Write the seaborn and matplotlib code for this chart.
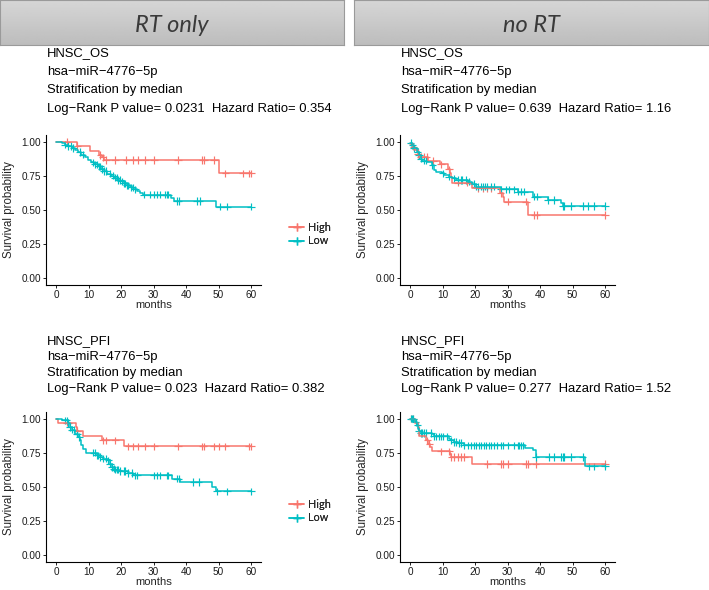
import numpy as np
import pandas as pd
import matplotlib
matplotlib.use("Agg")
import matplotlib.pyplot as plt
from matplotlib.lines import Line2D
import seaborn as sns

# ---- data ----
# RT only, OS
rt_os_high_t = [0, 6.6, 10.5, 13.3, 14.1, 14.8, 50.0]
rt_os_high_s = [1.0, 0.968, 0.934, 0.902, 0.885, 0.865, 0.767]
rt_os_high_c = [3.3, 6.6, 13.6, 14.4, 15.4, 18.2, 21.6, 23.8, 25.2, 27.5, 30.2, 37.5,
                45.0, 45.6, 48.6, 52.1, 57.5, 59.3, 60.0]
rt_os_low_t = [0, 1.8, 2.8, 3.8, 4.8, 5.8, 6.8, 7.8, 8.8, 9.8, 10.8, 11.8, 12.8, 13.8,
               14.8, 15.8, 16.8, 17.8, 18.8, 19.8, 20.8, 21.8, 22.8, 23.8, 24.8, 25.8,
               26.8, 35.3, 36.3, 49.3]
rt_os_low_s = [1.0, 0.99, 0.98, 0.97, 0.955, 0.94, 0.925, 0.905, 0.885, 0.865, 0.85,
               0.835, 0.82, 0.80, 0.785, 0.765, 0.75, 0.735, 0.72, 0.71, 0.695, 0.68,
               0.665, 0.65, 0.635, 0.62, 0.61, 0.587, 0.564, 0.522]
rt_os_low_c = [2.8, 3.8, 4.5, 5.3, 7.4, 8.2, 11.5, 12.0, 12.5, 13.1, 13.6, 14.1, 14.8,
               15.4, 16.6, 17.5, 18.2, 18.7, 19.2, 19.7, 20.2, 20.8, 21.3, 21.8, 22.3,
               23.0, 23.6, 24.3, 27.1, 29.0, 30.2, 31.2, 32.1, 33.6, 34.1, 34.6, 37.2,
               37.7, 43.4, 44.2, 50.5, 52.6, 60.0]

# RT only, PFI
rt_pfi_high_t = [0, 0.7, 6.2, 6.6, 8.4, 14.1, 20.8]
rt_pfi_high_s = [1.0, 0.971, 0.939, 0.909, 0.873, 0.841, 0.797]
rt_pfi_high_c = [3.3, 6.6, 14.4, 15.4, 18.2, 22.3, 23.8, 25.2, 27.4, 30.2, 37.5, 45.0,
                 45.4, 48.5, 50.0, 52.1, 59.3, 60.0]
rt_pfi_low_t = [0, 1.7, 2.8, 3.8, 4.3, 4.8, 5.9, 6.9, 7.4, 7.7, 8.4, 9.2, 12.5, 13.6,
                14.6, 16.1, 16.6, 17.2, 17.7, 18.2, 19.7, 22.3, 23.8, 35.6, 38.2, 48.0, 49.3]
rt_pfi_low_s = [1.0, 0.993, 0.988, 0.968, 0.939, 0.919, 0.890, 0.865, 0.841, 0.804,
                0.779, 0.750, 0.730, 0.718, 0.706, 0.694, 0.669, 0.645, 0.632, 0.625,
                0.615, 0.600, 0.583, 0.559, 0.534, 0.498, 0.466]
rt_pfi_low_c = [2.8, 3.3, 3.8, 4.3, 4.8, 5.5, 6.4, 6.6, 7.2, 11.5, 12.0, 12.5, 13.0, 13.6,
                14.6, 15.4, 16.1, 16.6, 17.2, 17.7, 18.2, 18.7, 19.2, 19.7, 20.8, 21.3,
                22.3, 23.3, 24.3, 24.9, 30.0, 31.0, 32.1, 34.1, 34.6, 37.2, 37.7, 42.3,
                43.9, 49.5, 52.6, 60.0]

# no RT, OS
no_os_high_t = [0, 1.0, 1.5, 2.3, 2.8, 5.5, 9.2, 11.8, 12.2, 12.5, 13.0, 19.2, 27.6,
                28.5, 28.8, 36.2]
no_os_high_s = [0.983, 0.963, 0.939, 0.909, 0.890, 0.860, 0.833, 0.797, 0.767, 0.743,
                0.699, 0.657, 0.620, 0.596, 0.559, 0.461]
no_os_high_c = [1.0, 2.3, 3.3, 4.3, 5.1, 7.1, 9.5, 12.0, 14.6, 17.5, 21.0, 22.3, 23.6,
                24.9, 27.9, 30.0, 35.7, 38.2, 39.0, 60.0]
no_os_low_t = [0, 0.7, 1.2, 2.1, 2.8, 3.3, 3.8, 5.3, 6.9, 7.4, 7.9, 9.7, 10.5, 12.0,
               13.0, 14.1, 17.7, 19.2, 20.2, 27.9, 33.1, 37.7, 42.3, 46.4, 47.0]
no_os_low_s = [0.993, 0.975, 0.951, 0.926, 0.902, 0.877, 0.860, 0.853, 0.828, 0.792,
               0.779, 0.767, 0.755, 0.743, 0.730, 0.718, 0.706, 0.689, 0.669, 0.650,
               0.632, 0.596, 0.571, 0.551, 0.527]
no_os_low_c = [0.2, 0.7, 1.2, 2.3, 2.8, 3.3, 4.3, 4.8, 6.9, 10.0, 12.0, 13.6, 14.6, 15.6,
               16.1, 17.2, 18.2, 19.7, 20.2, 21.0, 21.8, 22.3, 23.0, 23.8, 24.9, 25.9,
               27.9, 29.5, 30.5, 32.1, 33.1, 34.1, 35.1, 38.2, 39.2, 42.3, 44.4, 47.0,
               47.5, 49.5, 53.1, 54.7, 56.5, 60.0]

# no RT, PFI
no_pfi_high_t = [0, 1.5, 2.3, 2.8, 4.8, 5.5, 6.2, 6.9, 12.2, 12.5, 19.2]
no_pfi_high_s = [1.0, 0.968, 0.939, 0.877, 0.841, 0.816, 0.792, 0.760, 0.743, 0.718, 0.667]
no_pfi_high_c = [0.4, 1.0, 5.3, 5.9, 9.5, 12.0, 12.7, 13.6, 14.6, 15.6, 16.6, 23.8,
                 27.9, 28.5, 30.2, 35.7, 36.2, 38.7, 60.0]
no_pfi_low_t = [0, 1.5, 2.1, 2.5, 2.8, 3.3, 6.7, 7.4, 12.0, 12.5, 13.6, 14.6, 16.6,
                35.3, 37.7, 38.7, 53.8]
no_pfi_low_s = [1.0, 0.975, 0.951, 0.926, 0.909, 0.895, 0.885, 0.870, 0.853, 0.841,
                0.828, 0.821, 0.804, 0.784, 0.767, 0.718, 0.650]
no_pfi_low_c = [0.2, 0.7, 1.0, 1.7, 2.3, 2.8, 3.3, 3.8, 4.3, 4.8, 6.4, 7.4, 7.9, 8.9,
                9.5, 10.0, 11.5, 12.5, 13.6, 14.1, 15.1, 15.6, 16.6, 17.7, 18.7, 19.7,
                20.2, 21.3, 21.8, 22.8, 23.3, 24.3, 24.9, 25.9, 26.9, 27.9, 28.5, 30.0,
                32.1, 33.1, 33.6, 34.1, 34.6, 38.7, 42.8, 44.4, 46.4, 47.0, 47.5, 49.5,
                53.1, 55.2, 56.7, 60.0]

groups = ["High", "Low"]
colors = {"High": "#F8766D", "Low": "#00BFC4"}
headers = ["RT only", "no RT"]
titles = [
    ["HNSC_OS", "hsa\u2212miR\u22124776\u22125p", "Stratification by median",
     "Log\u2212Rank P value= 0.0231  Hazard Ratio= 0.354"],
    ["HNSC_OS", "hsa\u2212miR\u22124776\u22125p", "Stratification by median",
     "Log\u2212Rank P value= 0.639  Hazard Ratio= 1.16"],
    ["HNSC_PFI", "hsa\u2212miR\u22124776\u22125p", "Stratification by median",
     "Log\u2212Rank P value= 0.023  Hazard Ratio= 0.382"],
    ["HNSC_PFI", "hsa\u2212miR\u22124776\u22125p", "Stratification by median",
     "Log\u2212Rank P value= 0.277  Hazard Ratio= 1.52"],
]
panels = [
    (rt_os_high_t, rt_os_high_s, rt_os_high_c, rt_os_low_t, rt_os_low_s, rt_os_low_c),
    (no_os_high_t, no_os_high_s, no_os_high_c, no_os_low_t, no_os_low_s, no_os_low_c),
    (rt_pfi_high_t, rt_pfi_high_s, rt_pfi_high_c, rt_pfi_low_t, rt_pfi_low_s, rt_pfi_low_c),
    (no_pfi_high_t, no_pfi_high_s, no_pfi_high_c, no_pfi_low_t, no_pfi_low_s, no_pfi_low_c),
]

sns.set_style("ticks")
plt.rcParams["font.family"] = ["Liberation Sans", "DejaVu Sans"]

W, H = 709, 590
fig = plt.figure(figsize=(W / 100, H / 100), dpi=100)


def fx(x):
    return x / W


def fy(y):
    return 1 - y / H


# header boxes with a grey gradient
for hx0, hx1, label in [(0, 344, headers[0]), (354, 709, headers[1])]:
    hax = fig.add_axes([fx(hx0), fy(45), fx(hx1 - hx0), 45 / H])
    grad = np.linspace(0.84, 0.74, 50)[:, None]
    hax.imshow(grad, cmap="gray", vmin=0, vmax=1, aspect="auto", extent=[0, 1, 0, 1])
    hax.set_xticks([])
    hax.set_yticks([])
    for sp in hax.spines.values():
        sp.set_color("#9a9a9a")
        sp.set_linewidth(0.8)
    hax.text(0.5, 0.3, label, ha="center", va="baseline", fontsize=17, style="italic",
             family=["Lato", "DejaVu Sans"], color="#3a3a3a", transform=hax.transAxes)

# panel positions: (axes left px, axes top px, text left px, text baselines)
layout = [
    (46.25, 135.0, 46.7, [56, 74.5, 93, 112]),
    (400.3, 135.0, 400.7, [56, 74.5, 93, 112]),
    (46.25, 412.0, 46.7, [344, 360, 376, 392]),
    (400.3, 412.0, 400.7, [344, 360, 376, 392]),
]
ax_w, ax_h = 214.5, 149.5

for k, (left, top, tleft, bases) in enumerate(layout):
    ht, hs, hc, lt, ls, lc = panels[k]
    ax = fig.add_axes([fx(left), fy(top + ax_h), fx(ax_w), ax_h / H])

    curve_rows = []
    cens_rows = []
    for g, t, s, c in [("High", ht, hs, hc), ("Low", lt, ls, lc)]:
        t_ext = list(t) + [max(c)]
        s_ext = list(s) + [s[-1]]
        curve_rows.append(pd.DataFrame({"time": t_ext, "surv": s_ext, "group": g}))
        idx = np.searchsorted(t, c, side="right") - 1
        cens_rows.append(pd.DataFrame({"time": c, "surv": np.array(s)[idx], "group": g}))
    curves = pd.concat(curve_rows, ignore_index=True)
    cens = pd.concat(cens_rows, ignore_index=True)

    sns.lineplot(data=curves, x="time", y="surv", hue="group", palette=colors,
                 hue_order=groups, estimator=None, sort=False, drawstyle="steps-post",
                 linewidth=1.1, legend=False, ax=ax)
    sns.scatterplot(data=cens, x="time", y="surv", hue="group", palette=colors,
                    hue_order=groups, marker="+", s=28, linewidth=0.85, legend=False, ax=ax)

    ax.set_xlim(-3, 63)
    ax.set_ylim(-0.05, 1.05)
    ax.set_xticks([0, 10, 20, 30, 40, 50, 60])
    ax.set_yticks([0, 0.25, 0.5, 0.75, 1.0])
    ax.set_yticklabels(["0.00", "0.25", "0.50", "0.75", "1.00"])
    ax.tick_params(labelsize=7.2, length=2.5, width=0.7, pad=1.2, colors="#222222",
                   labelcolor="#1a1a1a")
    sns.despine(ax=ax)
    for sp in ["left", "bottom"]:
        ax.spines[sp].set_linewidth(0.8)
        ax.spines[sp].set_color("black")
    ax.set_xlabel("months", fontsize=8.1, labelpad=0.3)
    ax.set_ylabel("Survival probability", fontsize=8.3, labelpad=5)

    handles = [Line2D([], [], color=colors[g], marker="+", markersize=6, linewidth=1.1)
               for g in groups]
    ax.legend(handles, groups, loc="center left", bbox_to_anchor=((289 - left) / ax_w, 0.338),
              frameon=False, prop={"family": ["Lato", "DejaVu Sans"], "size": 7.8},
              handlelength=1.4, handletextpad=0.35, labelspacing=0.25, borderpad=0,
              borderaxespad=0)

    for line, b in zip(titles[k], bases):
        fig.text(fx(tleft), fy(b), line, ha="left", va="baseline", fontsize=9.4, color="black")

fig.savefig("out.png", dpi=100)
